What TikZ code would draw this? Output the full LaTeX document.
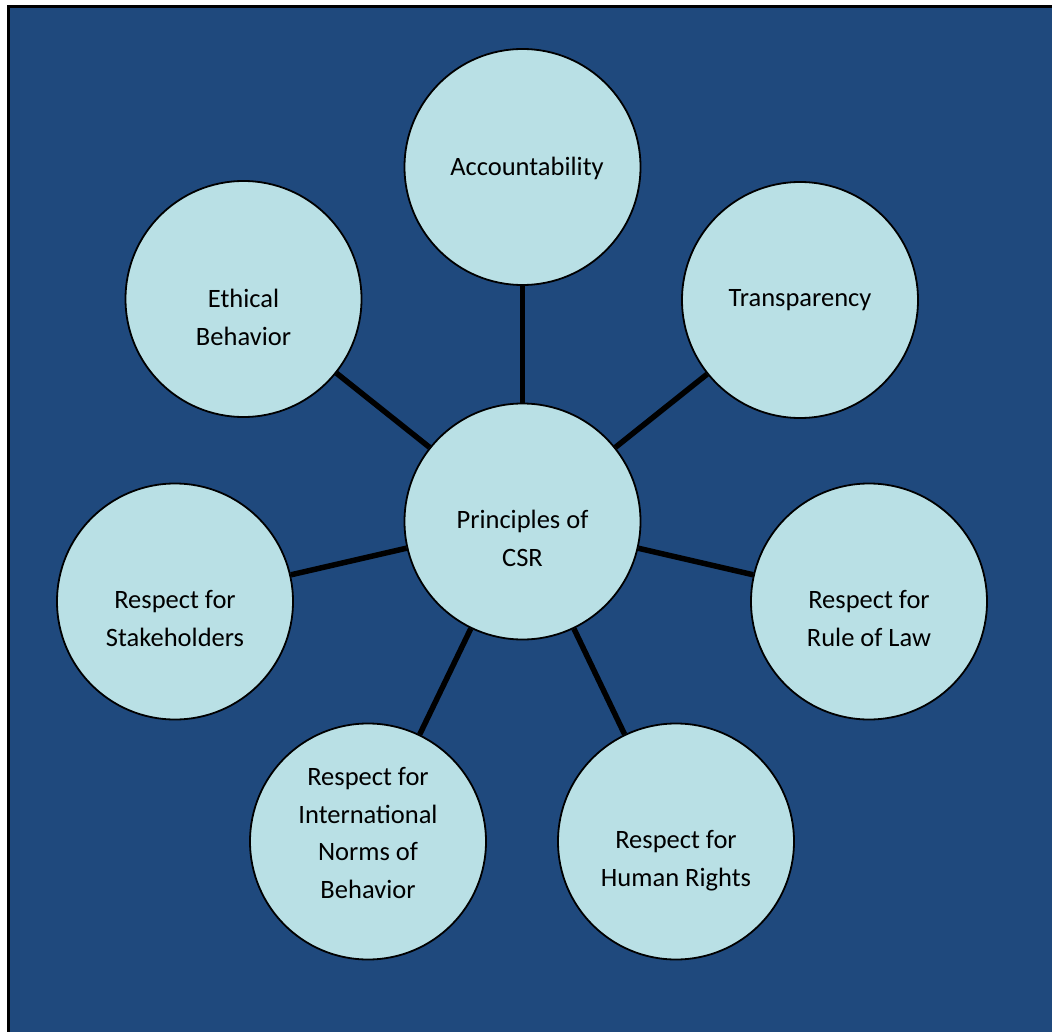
\documentclass[tikz,border=0pt]{standalone}
\usepackage{fontspec}
\setmainfont{Carlito}
\definecolor{bgblue}{RGB}{31,73,125}
\definecolor{circfill}{RGB}{185,224,229}
\begin{document}
\begin{tikzpicture}[x=1pt,y=-1pt,
  bubble/.style={circle,draw=black,line width=1.8pt,fill=circfill,minimum size=236pt,inner sep=0pt},
  conn/.style={draw=black,line width=5.5pt},
  lbl/.style={align=center,font=\fontsize{26.5}{37.5}\selectfont,anchor=base,inner sep=0pt}]
\useasboundingbox (0,0) rectangle (1052,1032);
\fill[bgblue] (8,7) rectangle (1062,1042);
\draw[black,line width=3pt] (8,1040) -- (8,7) -- (1060,7);
% circles
\node[bubble] (csr) at (522.5,521.5) {};
\node[bubble] (acc) at (522.5,167) {};
\node[bubble] (tra) at (800,300) {};
\node[bubble] (law) at (869,601.5) {};
\node[bubble] (hum) at (676,841.5) {};
\node[bubble] (int) at (368,841.5) {};
\node[bubble] (sta) at (175,601.5) {};
\node[bubble] (eth) at (243.5,299) {};
% connectors
\foreach \n in {acc,tra,law,hum,int,sta,eth}{\draw[conn] (csr) -- (\n);}
% labels (anchor = baseline of last line)
\node[lbl] (tcsr) at (522.5,566) {Principles of\\CSR};
\node[lbl] (tacc) at (527,176) {Accountability};
\node[lbl] (ttra) at (800,307) {Transparency};
\node[lbl] (tlaw) at (869,646) {Respect for\\Rule of Law};
\node[lbl] (thum) at (676,886) {Respect for\\Human Rights};
\node[lbl] (tint) at (368,898) {Respect for\\International\\Norms of\\Behavior};
\node[lbl] (tsta) at (175,646) {Respect for\\Stakeholders};
\node[lbl] (teth) at (243.5,345) {Ethical\\Behavior};
\end{tikzpicture}
\end{document}
